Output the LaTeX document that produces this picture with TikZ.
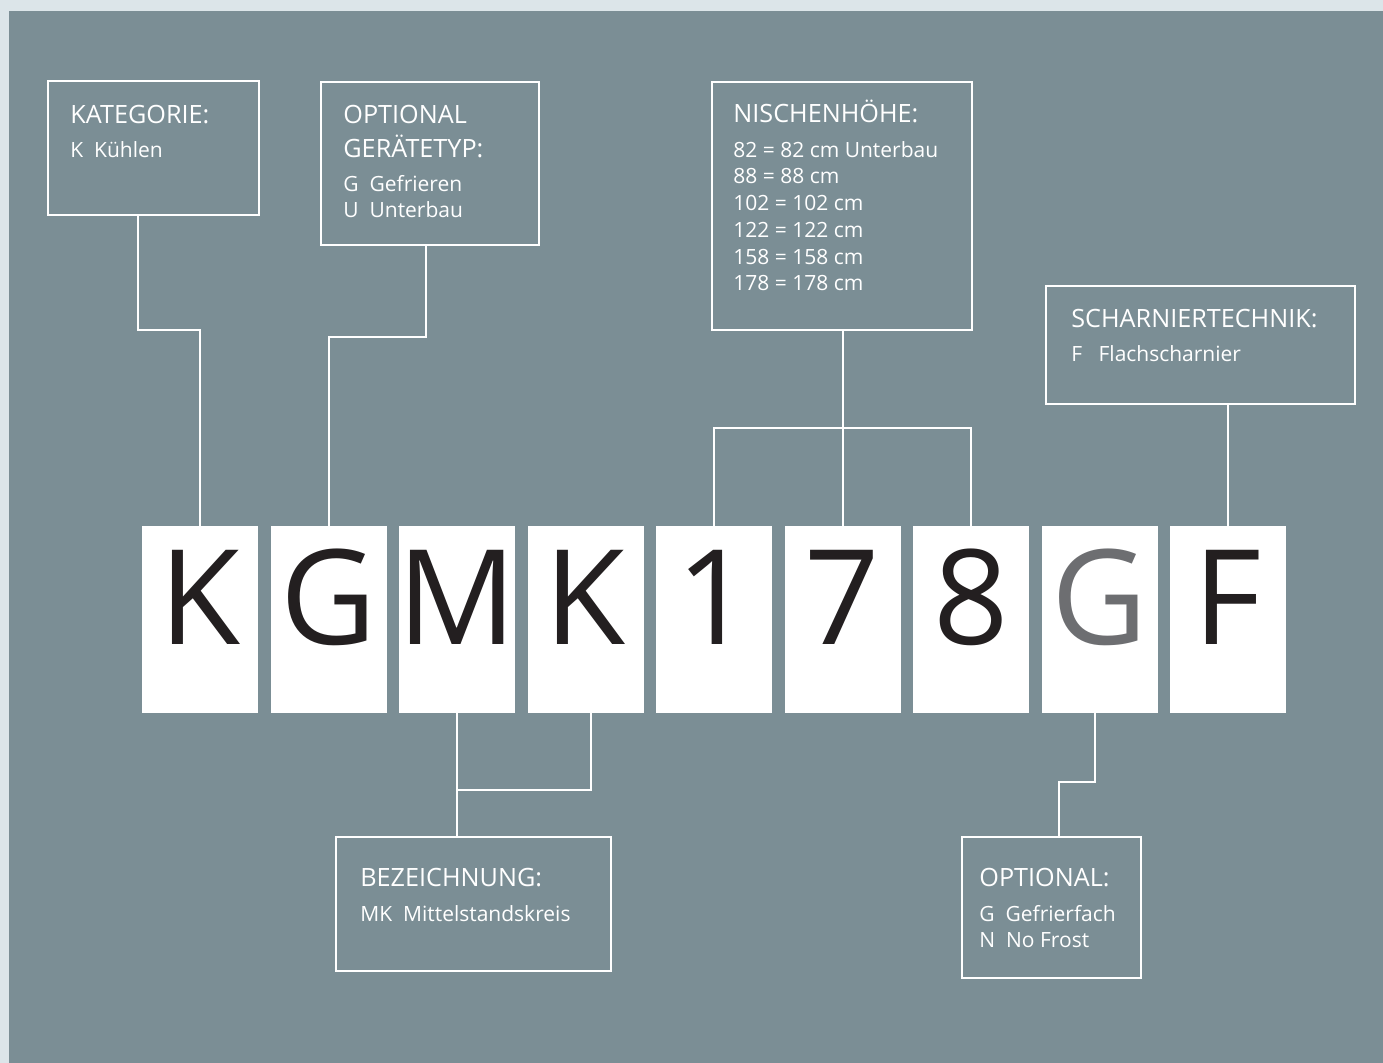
\documentclass[tikz,border=0pt]{standalone}
\usepackage{fontspec}
\setmainfont{Open Sans}
\usetikzlibrary{positioning}
\definecolor{paper}{HTML}{DCE5E9}
\definecolor{panel}{HTML}{7B8E95}
\definecolor{ink}{HTML}{231F20}
\definecolor{inkgray}{HTML}{6D6E71}

\begin{document}
\begin{tikzpicture}[x=0.5pt,y=-0.5pt,line join=miter,
  frame/.style={draw=white,line width=1pt,inner sep=0pt,anchor=north west},
  link/.style={draw=white,line width=1pt},
  head/.style={anchor=base west,text=white,inner sep=0pt,font=\fontsize{12.6}{14}\selectfont},
  item/.style={anchor=base west,text=white,inner sep=0pt,font=\fontsize{10.5}{12}\selectfont},
  letterbox/.style={fill=white,anchor=base,inner sep=0pt,minimum width=58pt,text height=59.5pt,text depth=34pt,font=\fontsize{66}{70}\selectfont}]
\useasboundingbox (0,0) rectangle (1383,1063);
\fill[paper] (0,0) rectangle (1383,1063);
\fill[panel] (9,11) rectangle (1383,1063);
% the code letters
\foreach \nm/\ch/\col [count=\i from 0] in {cK/K/ink,cG/G/ink,cM/M/ink,cK2/K/ink,c1/1/ink,c7/7/ink,c8/8/ink,cGo/G/inkgray,cF/F/ink}
  \node[letterbox,text=\col] (\nm) at (200+\i*128.5,645) {\makebox[0pt]{\ch}};
% frames
\node[frame,minimum width=105.5pt,minimum height=67pt] (kat) at (47,80) {};
\node[frame,minimum width=109pt,minimum height=81.5pt] (typ) at (320,81) {};
\node[frame,minimum width=130pt,minimum height=124pt] (nis) at (711,81) {};
\node[frame,minimum width=154.5pt,minimum height=59pt] (sch) at (1045,285) {};
\node[frame,minimum width=137.5pt,minimum height=67pt] (bez) at (335,836) {};
\node[frame,minimum width=89.5pt,minimum height=70.5pt] (opt) at (961,836) {};
% texts
\node[head] (katT) at (70,124) {KATEGORIE:};
\node[item] (katA) at (70,158) {K~~Kühlen};
\node[head] (typT) at (343,124) {OPTIONAL};
\node[head] (typU) at (343,158) {GERÄTETYP:};
\node[item] (typA) at (343,192) {G~~Gefrieren};
\node[item] (typB) at (343,218) {U~~Unterbau};
\node[head] (nisT) at (733,123) {NISCHENHÖHE:};
\node[item] (nisA) at (733,158) {82 = 82 cm Unterbau};
\node[item] (nisB) at (733,184) {88 = 88 cm};
\node[item] (nisC) at (733,211) {102 = 102 cm};
\node[item] (nisD) at (733,238) {122 = 122 cm};
\node[item] (nisE) at (733,265) {158 = 158 cm};
\node[item] (nisF) at (733,291) {178 = 178 cm};
\node[head] (schT) at (1071,328) {SCHARNIERTECHNIK:};
\node[item] (schA) at (1071,362) {F~~~Flachscharnier};
\node[head] (bezT) at (360,887) {BEZEICHNUNG:};
\node[item] (bezA) at (360,922) {MK~~Mittelstandskreis};
\node[head] (optT) at (979,887) {OPTIONAL:};
\node[item] (optA) at (979,922) {G~~Gefrierfach};
\node[item] (optB) at (979,948) {N~~No Frost};
% connectors
\draw[link] ([xshift=-7.75pt]kat.south) -- ++(0,114) -| (cK.north);
\draw[link] ([xshift=-2pt]typ.south) -- ++(0,91) -| (cG.north);
\draw[link] (c7.north) -- (c7.north |- nis.south);
\draw[link] (c1.north) -- ++(0,-98) -| (c8.north);
\draw[link] (cF.north) -- (cF.north |- sch.south);
\draw[link] (cM.south) -- (cM.south |- bez.north);
\draw[link] (cM.south) ++(0,77) -| ([xshift=2.75pt]cK2.south);
\draw[link] ([xshift=-2.25pt]cGo.south) -- ++(0,69) -| ([xshift=3.75pt]opt.north);
\end{tikzpicture}
\end{document}
